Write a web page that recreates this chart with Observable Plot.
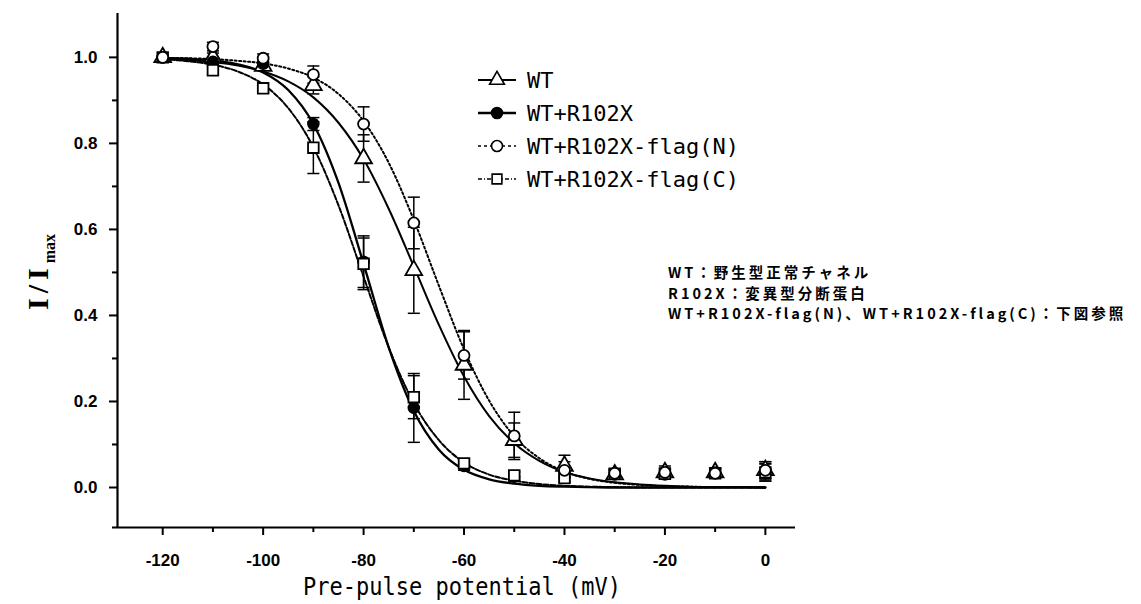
<!DOCTYPE html>
<html><head><meta charset="utf-8">
<script src="https://cdn.jsdelivr.net/npm/d3@7"></script>
<script src="https://cdn.jsdelivr.net/npm/@observablehq/plot@0.6"></script>
<style>
body{margin:0;background:#fff;}
#wrap{position:relative;width:1141px;height:604px;overflow:hidden;background:#fff;}
#wrap svg.plot{position:absolute;left:0;top:0;}
#xlabel{position:absolute;left:262px;width:400px;top:575px;text-align:center;font-family:"DejaVu Sans Mono";font-size:22px;line-height:24px;color:#000;transform:scaleY(1.15);}
.note{position:absolute;left:668px;font-family:"Noto Sans CJK JP";font-weight:bold;font-size:14.5px;line-height:16px;height:16px;letter-spacing:3px;color:#000;white-space:nowrap;}
#legend{position:absolute;left:0;top:0;}
</style></head><body><div id="wrap"></div>
<script>
// ---- data ----
const voltages = [-120,-110,-100,-90,-80,-70,-60,-50,-40,-30,-20,-10,0];
const seriesNames = ["WT","WT+R102X","WT+R102X-flag(N)","WT+R102X-flag(C)"];
const wt        = [1.00,1.00,0.980,0.935,0.765,0.505,0.285,0.110,0.050,0.030,0.035,0.035,0.040];
const wtErr     = [0,0.010,0.010,0.020,0.055,0.100,0.080,0.040,0.025,0.010,0.010,0.010,0.020];
const r102x     = [1.00,0.990,0.985,0.845,0.525,0.185,0.050,0.025,0.025,0.030,0.030,0.035,0.035];
const r102xErr  = [0,0.010,0.010,0.015,0.060,0.080,0.010,0.010,0.010,0.010,0.010,0.010,0.020];
const flagN     = [1.00,1.025,0.998,0.960,0.845,0.615,0.307,0.120,0.040,0.033,0.035,0.033,0.040];
const flagNErr  = [0,0.010,0.010,0.020,0.040,0.060,0.055,0.055,0.020,0.010,0.015,0.010,0.020];
const flagC     = [1.00,0.970,0.928,0.790,0.520,0.210,0.056,0.028,0.022,0.032,0.032,0.033,0.035];
const flagCErr  = [0,0.010,0.010,0.060,0.060,0.050,0.010,0.010,0.010,0.010,0.010,0.010,0.020];
// fitted curves, read every 5 mV
const curveV   = [-120,-115,-110,-105,-100,-95,-90,-85,-80,-75,-70,-65,-60,-55,-50,-45,-40,-35,-30,-25,-20,-15,-10,-5,0];
const fitWT    = [0.996,0.994,0.989,0.981,0.967,0.944,0.907,0.848,0.763,0.648,0.514,0.378,0.258,0.166,0.103,0.062,0.036,0.021,0.012,0.007,0.004,0.002,0.001,0.001,0.000];
const fitR102X = [0.999,0.997,0.993,0.984,0.965,0.924,0.845,0.708,0.520,0.326,0.178,0.088,0.041,0.019,0.009,0.004,0.002,0.001,0.000,0.000,0.000,0.000,0.000,0.000,0.000];
const fitN     = [0.999,0.998,0.996,0.992,0.986,0.974,0.953,0.915,0.852,0.755,0.622,0.469,0.321,0.202,0.119,0.068,0.037,0.020,0.011,0.006,0.003,0.002,0.001,0.001,0.000];
const fitC     = [0.996,0.991,0.983,0.967,0.937,0.882,0.791,0.656,0.490,0.326,0.196,0.110,0.058,0.030,0.016,0.008,0.004,0.002,0.001,0.000,0.000,0.000,0.000,0.000,0.000];
const xTicks = [-120,-100,-80,-60,-40,-20,0];
const xMinorTicks = [-110,-90,-70,-50,-30,-10];
const yTicks = [0.0,0.2,0.4,0.6,0.8,1.0];
const yMinorTicks = [0.1,0.3,0.5,0.7,0.9];
const xLabel = "Pre-pulse potential (mV)";
const noteLines = ["WT：野生型正常チャネル","R102X：変異型分断蛋白","WT+R102X-flag(N)、WT+R102X-flag(C)：下図参照"];

// ---- build tables ----
const pts = (vals, errs, s) => vals.map((y,i) => ({v: voltages[i], y, e: errs[i], s}));
const P = {
  wt: pts(wt, wtErr, seriesNames[0]),
  r: pts(r102x, r102xErr, seriesNames[1]),
  n: pts(flagN, flagNErr, seriesNames[2]),
  c: pts(flagC, flagCErr, seriesNames[3])
};
const allPts = [...P.wt, ...P.r, ...P.n, ...P.c].filter(d => d.e > 0);
const fit = arr => arr.map((y,i) => ({v: curveV[i], y}));
const capHalf = 1.2;

const plot = Plot.plot({
  width: 1141, height: 604,
  marginLeft: 117, marginRight: 346, marginTop: 13, marginBottom: 77,
  style: {fontFamily: "Liberation Sans", fontSize: "17px", fontWeight: "bold", background: "white", overflow: "visible"},
  x: {domain: [-129, 6]},
  y: {domain: [-0.093, 1.102]},
  marks: [
    // axes
    Plot.axisX({ticks: xTicks, tickSize: 8, tickPadding: 18, strokeWidth: 2, fontSize: 17, fontWeight: "bold", tickFormat: d => d < 0 ? "-" + Math.abs(d) : String(d), label: null}),
    Plot.axisX({ticks: xMinorTicks, tickSize: 5, strokeWidth: 2, tickFormat: () => "", label: null}),
    Plot.axisY({ticks: yTicks, tickSize: 8, tickPadding: 12, strokeWidth: 2, fontSize: 17, fontWeight: "bold", tickFormat: d3.format(".1f"), label: null}),
    Plot.axisY({ticks: yMinorTicks, tickSize: 5, strokeWidth: 2, tickFormat: () => "", label: null}),
    Plot.ruleY([-0.093], {x1: -130, x2: 6, strokeWidth: 2.2}),
    Plot.ruleX([-129], {strokeWidth: 2.2}),
    // error bars
    Plot.ruleX(allPts, {x: "v", y1: d => d.y - d.e, y2: d => d.y + d.e, strokeWidth: 1.5}),
    Plot.link(allPts, {x1: d => d.v - capHalf, x2: d => d.v + capHalf, y1: d => d.y + d.e, y2: d => d.y + d.e, strokeWidth: 1.5}),
    Plot.link(allPts, {x1: d => d.v - capHalf, x2: d => d.v + capHalf, y1: d => d.y - d.e, y2: d => d.y - d.e, strokeWidth: 1.5}),
    // fitted curves
    Plot.line(fit(fitN), {x: "v", y: "y", curve: "monotone-x", strokeWidth: 2, strokeDasharray: "2,2.5"}),
    Plot.line(fit(fitC), {x: "v", y: "y", curve: "monotone-x", strokeWidth: 2, strokeDasharray: "5,2"}),
    Plot.line(fit(fitWT), {x: "v", y: "y", curve: "monotone-x", strokeWidth: 2}),
    Plot.line(fit(fitR102X), {x: "v", y: "y", curve: "monotone-x", strokeWidth: 2.3}),
    // markers
    Plot.dot(P.wt, {x: "v", y: "y", symbol: "triangle", r: 6.2, fill: "white", stroke: "black", strokeWidth: 1.8}),
    Plot.dot(P.r, {x: "v", y: "y", symbol: "circle", r: 5.5, fill: "black", stroke: "black", strokeWidth: 1.5}),
    Plot.dot(P.c, {x: "v", y: "y", symbol: "square", r: 6, fill: "white", stroke: "black", strokeWidth: 1.8}),
    Plot.dot(P.n, {x: "v", y: "y", symbol: "circle", r: 5.5, fill: "white", stroke: "black", strokeWidth: 1.8})
  ]
});
plot.classList.add("plot");

// y-axis title with subscript
const svg = d3.select(plot);
const yl = svg.append("text")
  .attr("transform", "translate(48,272) rotate(-90)")
  .attr("text-anchor", "middle")
  .style("font-family", "Liberation Serif").style("font-weight", "bold").style("font-size", "30px");
yl.append("tspan").text("I/I").attr("letter-spacing", "5px");
yl.append("tspan").text("max").attr("font-size", "16px").attr("dy", "7");

const wrap = document.getElementById("wrap");
wrap.appendChild(plot);

// legend
const lg = d3.select(wrap).append("svg").attr("id","legend").attr("width",1141).attr("height",604);
const rows = [
  {name: seriesNames[0], dash: null, sw: 1.8, sym: "tri", fill: "white"},
  {name: seriesNames[1], dash: null, sw: 2.6, sym: "circle", fill: "black"},
  {name: seriesNames[2], dash: "3,3", sw: 1.5, sym: "circle", fill: "white"},
  {name: seriesNames[3], dash: "4,2,1,2", sw: 1.5, sym: "square", fill: "white"}
];
rows.forEach((r, i) => {
  const cy = 80 + i * 33;
  const g = lg.append("g");
  g.append("line").attr("x1", 478).attr("x2", 516).attr("y1", cy).attr("y2", cy)
    .attr("stroke", "black").attr("stroke-width", r.sw).attr("stroke-dasharray", r.dash);
  const sym = r.sym === "tri" ? d3.symbolTriangle : r.sym === "square" ? d3.symbolSquare : d3.symbolCircle;
  g.append("path").attr("d", d3.symbol(sym, Math.PI * 5.5 * 5.5)()).attr("transform", `translate(497,${cy})`)
    .attr("fill", r.fill).attr("stroke", "black").attr("stroke-width", 1.6);
  g.append("text").attr("x", 527).attr("y", cy).attr("dy", "0.36em")
    .style("font-family", "DejaVu Sans Mono").style("font-size", "22px").text(r.name);
});

// x-axis title
const xl = document.createElement("div");
xl.id = "xlabel"; xl.textContent = xLabel; wrap.appendChild(xl);

// note lines
noteLines.forEach((t, i) => {
  const d = document.createElement("div");
  d.className = "note";
  d.style.top = (264 + i * 20.5) + "px";
  d.textContent = t;
  wrap.appendChild(d);
});
</script>
</body></html>
